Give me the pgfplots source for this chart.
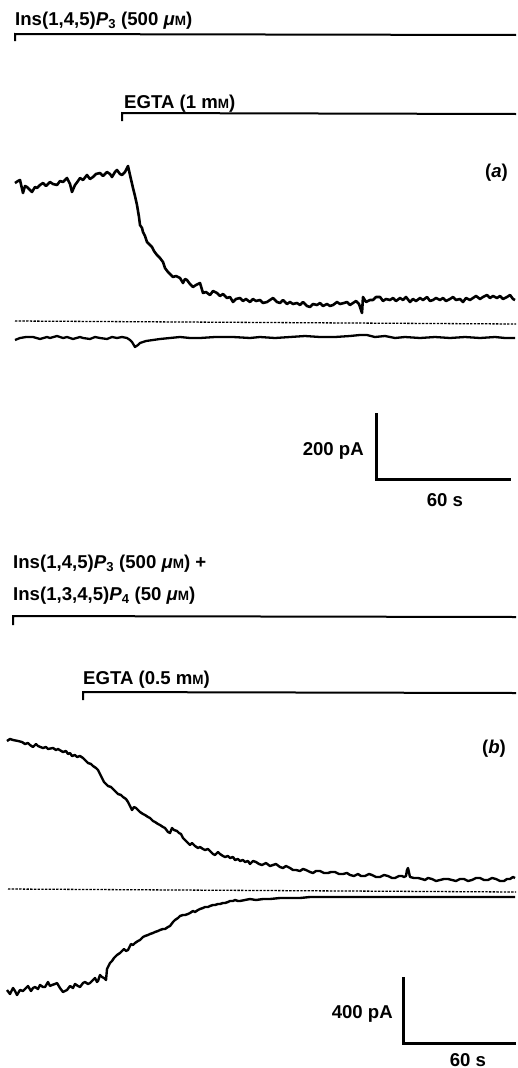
\documentclass[border=0pt]{standalone}
\usepackage{fontspec}
\setmainfont{Liberation Sans}
\usepackage{pgfplots}
\pgfplotsset{compat=1.18}

% small capital M used in "mM" and "μM"
\newcommand{\smM}{{\fontsize{13.5}{14}\selectfont M}}
\newcommand{\lbl}{\fontsize{18.6}{22}\selectfont\bfseries}

\begin{document}
\begin{tikzpicture}
\begin{axis}[
    width=516pt, height=1068pt, scale only axis,
    xmin=0, xmax=516, ymin=0, ymax=1068,
    y dir=reverse,
    hide axis, clip=false,
]
  % page frame (invisible)
  \addplot[draw=none] coordinates {(0,0)(516,1068)};

  %% ---------------- panel (a) ----------------
  \node[anchor=base west, inner sep=0pt, font=\lbl] at (axis cs:15,25)
    {Ins(1,4,5)\textit{P}\textsubscript{3} (500 \textit{μ}\smM)};
  \addplot[black, line width=2pt] coordinates {(15,41)(15,34)(516,35)};
  \node[anchor=base west, inner sep=0pt, font=\lbl] at (axis cs:124,108)
    {EGTA (1 m\smM)};
  \addplot[black, line width=2pt] coordinates {(122,121)(122,113)(516,114)};
  \node[anchor=base east, inner sep=0pt, font=\lbl] at (axis cs:508,177)
    {(\textit{a})};

  % whole-cell current, Ins(1,4,5)P3
  \addplot[black, line width=2.6pt, line join=round] coordinates {
    (15,183)(18,181)(20,180)(23,193)(25,186)(27,187)(30,190)(32,192)(35,187)
    (37,188)(40,185)(43,183)(46,186)(50,182)(53,184)(57,185)(60,181)(63,182)
    (67,178)(70,184)(72,192)(75,185)(78,181)(80,178)(83,180)(87,175)(90,179)
    (93,177)(96,174)(100,173)(103,176)(107,172)(110,174)(112,177)(115,172)
    (117,170)(120,174)(122,175)(125,172)(128,166)(130,175)(133,188)(135,196)
    (137,205)(139,217)(140,225)(142,228)(143,232)(145,236)(147,242)(149,244)
    (152,247)(154,251)(157,255)(160,258)(163,262)(165,268)(168,272)(170,274)
    (173,277)(176,276)(180,278)(183,283)(185,279)(187,280)(190,284)(193,287)
    (196,285)(200,283)(203,293)(206,292)(210,295)(213,291)(217,293)(220,296)
    (223,294)(227,298)(230,297)(233,302)(236,299)(240,298)(243,301)(246,299)
    (250,302)(253,299)(256,301)(260,300)(263,303)(267,302)(270,300)(273,298)
    (277,302)(280,303)(283,300)(287,304)(290,302)(293,304)(297,303)(300,305)
    (303,302)(307,306)(310,307)(313,304)(317,305)(320,303)(323,306)(327,304)
    (330,306)(333,305)(337,302)(340,304)(344,303)(347,302)(350,305)(353,303)
    (356,301)(359,304)(362,313)(363,297)(366,302)(370,300)(373,300)(376,297)
    (380,297)(383,301)(386,299)(390,300)(393,298)(396,301)(400,298)(403,300)
    (406,297)(410,302)(413,299)(416,301)(420,298)(423,300)(427,297)(430,301)
    (433,300)(436,298)(440,300)(443,298)(446,301)(450,299)(453,297)(456,300)
    (460,299)(463,302)(466,298)(470,300)(473,298)(476,296)(480,299)(483,297)
    (487,295)(490,298)(493,296)(497,298)(500,296)(503,299)(507,297)(510,295)
    (513,299)(515,300)};

  % zero-current level
  \addplot[black, line width=1.3pt, dash pattern=on 2.4pt off 1.3pt]
    coordinates {(15,321)(516,324)};

  % trace at the lower level
  \addplot[black, line width=2.3pt, line join=round] coordinates {
    (15,340)(20,338)(26,337)(33,337)(40,339)(47,337)(50,338)(57,336)(63,338)
    (67,337)(73,339)(80,337)(83,338)(90,339)(95,337)(100,338)(107,339)(112,337)
    (117,338)(122,337)(127,338)(130,340)(132,342)(135,347)(138,345)(140,343)
    (146,341)(153,340)(160,339)(170,338)(180,337)(190,338)(200,338)(215,337)
    (233,337)(250,338)(260,337)(275,338)(290,337)(305,336)(320,337)(335,337)
    (350,336)(360,335)(367,335)(375,337)(385,336)(395,338)(405,337)(420,338)
    (435,337)(450,338)(465,337)(480,338)(495,337)(505,338)(515,338)};

  % calibration bars (a)
  \addplot[black, line width=3pt] coordinates {(376,413)(376,479)(511,479)};
  \node[anchor=base east, inner sep=0pt, font=\lbl] at (axis cs:364,455) {200 pA};
  \node[anchor=base, inner sep=0pt, font=\lbl] at (axis cs:445,506) {60 s};

  %% ---------------- panel (b) ----------------
  \node[anchor=base west, inner sep=0pt, font=\lbl] at (axis cs:13,568)
    {Ins(1,4,5)\textit{P}\textsubscript{3} (500 \textit{μ}\smM) +};
  \node[anchor=base west, inner sep=0pt, font=\lbl] at (axis cs:13,600)
    {Ins(1,3,4,5)\textit{P}\textsubscript{4} (50 \textit{μ}\smM)};
  \addplot[black, line width=2pt] coordinates {(13,625)(13,616)(516,617)};
  \node[anchor=base west, inner sep=0pt, font=\lbl] at (axis cs:83,684)
    {EGTA (0.5 m\smM)};
  \addplot[black, line width=2pt] coordinates {(83,700)(83,692)(516,693)};
  \node[anchor=base east, inner sep=0pt, font=\lbl] at (axis cs:506,753)
    {(\textit{b})};

  % current with Ins(1,4,5)P3 + Ins(1,3,4,5)P4
  \addplot[black, line width=2.4pt, line join=round] coordinates {
    (7,741)(10,739)(13,740)(18,741)(22,742)(25,744)(28,743)(30,745)(33,747)
    (36,744)(38,746)(43,748)(46,747)(48,749)(53,748)(56,750)(58,749)(63,752)
    (66,751)(68,754)(70,753)(72,756)(75,755)(77,757)(80,756)(83,758)(86,761)
    (88,763)(91,764)(93,766)(96,768)(98,770)(100,774)(102,778)(104,782)
    (106,784)(108,786)(111,787)(113,789)(116,792)(118,794)(121,795)(123,797)
    (126,799)(128,802)(130,806)(132,810)(134,807)(136,808)(138,810)(140,812)
    (143,814)(145,815)(148,817)(150,818)(153,821)(155,822)(158,824)(160,825)
    (163,827)(165,828)(168,832)(170,833)(172,828)(174,830)(177,831)(179,833)
    (181,834)(183,838)(185,840)(188,843)(190,845)(192,843)(195,846)(198,848)
    (200,847)(203,849)(205,850)(208,849)(210,851)(213,854)(215,855)(218,852)
    (220,854)(223,856)(225,857)(228,856)(230,858)(233,857)(235,860)(238,859)
    (240,861)(243,860)(245,862)(248,861)(250,864)(253,861)(256,862)(259,864)
    (262,865)(266,863)(270,866)(273,865)(276,864)(280,867)(283,868)(286,866)
    (290,868)(293,870)(296,870)(300,871)(303,869)(306,870)(310,872)(313,873)
    (316,871)(320,871)(324,873)(328,873)(331,872)(335,872)(339,874)(343,874)
    (347,873)(350,875)(354,876)(358,874)(361,876)(365,876)(369,874)(372,875)
    (376,877)(380,877)(384,875)(388,876)(392,878)(395,878)(399,876)(402,876)
    (404,877)(406,876)(407,870)(408,868)(410,877)(414,878)(418,878)(422,879)
    (425,880)(428,878)(432,879)(436,881)(440,880)(444,879)(448,879)(452,880)
    (456,881)(460,879)(464,879)(468,881)(472,880)(476,878)(480,878)(484,880)
    (488,880)(492,878)(496,879)(500,881)(504,881)(507,879)(510,879)(513,877)
    (515,878)};

  % zero-current level
  \addplot[black, line width=1.3pt, dash pattern=on 2.4pt off 1.3pt]
    coordinates {(8,889)(516,892)};

  % trace at the lower level
  \addplot[black, line width=2.4pt, line join=round] coordinates {
    (7,990)(10,994)(13,988)(15,991)(17,995)(20,990)(23,991)(25,989)(28,986)
    (31,991)(33,988)(35,987)(38,989)(40,985)(43,987)(45,987)(48,982)(50,986)
    (52,985)(55,984)(57,983)(60,988)(63,992)(65,991)(67,990)(70,986)(73,988)
    (75,984)(78,986)(80,987)(83,983)(85,982)(88,984)(90,983)(93,980)(95,978)
    (97,982)(98,981)(100,975)(102,977)(104,978)(106,980)(107,969)(109,965)
    (110,963)(112,961)(114,958)(116,956)(117,955)(120,953)(122,951)(124,949)
    (126,951)(128,950)(131,944)(133,945)(135,943)(138,941)(140,940)(143,937)
    (145,936)(148,935)(150,934)(153,933)(155,932)(158,931)(160,930)(163,929)
    (165,929)(168,927)(170,926)(173,922)(175,920)(178,918)(180,916)(183,915)
    (185,915)(188,914)(190,913)(193,911)(195,912)(198,910)(200,909)(203,908)
    (205,907)(208,907)(210,906)(213,905)(215,905)(218,904)(220,904)(223,903)
    (225,903)(228,902)(230,901)(233,901)(235,900)(238,901)(240,901)(245,900)
    (250,899)(256,900)(263,899)(270,899)(280,898)(290,898)(300,898)(310,897)
    (325,897)(340,897)(360,897)(380,897)(400,897)(420,897)(440,897)(460,897)
    (480,897)(500,897)(515,897)};

  % calibration bars (b)
  \addplot[black, line width=3pt] coordinates {(403,977)(403,1043)(516,1043)};
  \node[anchor=base east, inner sep=0pt, font=\lbl] at (axis cs:393,1018) {400 pA};
  \node[anchor=base, inner sep=0pt, font=\lbl] at (axis cs:468,1066) {60 s};
\end{axis}
\end{tikzpicture}
\end{document}
